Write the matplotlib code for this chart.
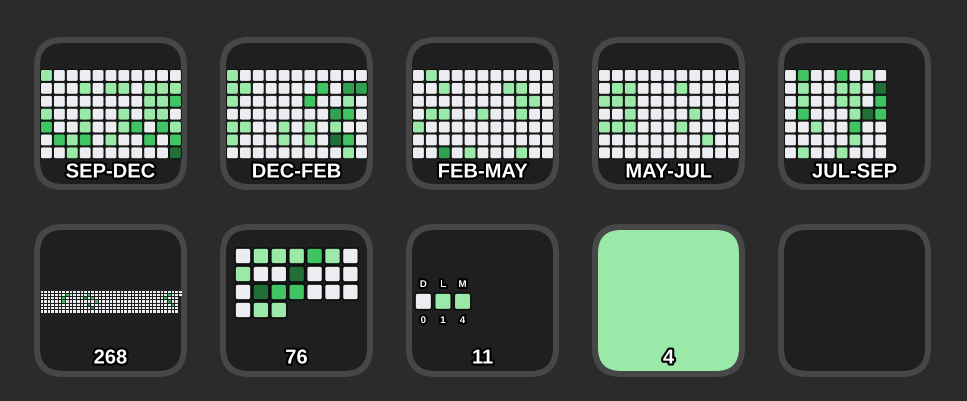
import matplotlib.pyplot as plt
from matplotlib.patches import FancyBboxPatch
import matplotlib.patheffects as pe

plt.rcParams['font.family'] = ['Liberation Sans', 'DejaVu Sans']

# github style levels
niveles = ['#ebedf0', '#9be9a8', '#40c463', '#30a14e', '#216e39']

meses = ["SEP-DEC", "DEC-FEB", "FEB-MAY", "MAY-JUL", "JUL-SEP"]

sep_dec = [[1,0,0,0,0,0,0,0,0,0,0],
           [0,0,0,1,0,1,1,0,1,1,1],
           [0,0,0,0,0,0,0,0,1,1,2],
           [1,0,0,1,0,0,1,0,1,1,0],
           [2,0,0,1,0,0,1,2,0,2,1],
           [0,2,1,2,0,1,0,0,2,0,2],
           [0,0,1,0,0,0,0,0,0,0,4]]
dec_feb = [[1,0,0,0,0,0,0,0,0,0,0],
           [1,1,0,0,0,0,0,2,0,3,3],
           [1,0,0,0,0,0,2,0,0,1,0],
           [0,0,0,0,0,0,0,0,3,2,0],
           [1,1,0,0,1,0,1,0,1,0,0],
           [1,0,0,0,1,0,1,0,4,2,0],
           [0,0,0,0,0,0,0,0,0,1,0]]
feb_may = [[0,1,0,0,0,0,0,0,0,0,0],
           [0,0,1,0,0,0,0,1,1,0,0],
           [0,0,0,0,0,0,0,0,1,1,0],
           [0,1,1,0,0,1,0,0,1,0,0],
           [1,0,0,0,0,0,0,0,0,0,0],
           [0,0,0,0,0,0,0,0,0,0,0],
           [0,0,3,0,1,0,0,0,1,0,0]]
may_jul = [[0,0,0,0,0,0,0,0,0,0,0],
           [0,1,1,0,0,0,1,0,0,0,0],
           [1,1,1,0,0,0,0,0,0,0,0],
           [0,0,1,0,0,0,0,1,0,0,0],
           [1,1,1,0,0,0,1,0,0,0,0],
           [0,0,0,0,0,0,0,0,1,0,0],
           [0,0,0,0,0,0,0,0,0,0,0]]
jul_sep = [[0,2,0,0,2,0,1,0],
           [0,1,0,0,1,1,0,4],
           [0,1,0,0,1,1,0,2],
           [0,2,0,0,0,1,4,2],
           [0,0,1,0,0,2,0,0],
           [0,0,0,0,0,1,0,0],
           [0,1,0,0,1,0,0,0]]
grids = [sep_dec, dec_feb, feb_may, may_jul, jul_sep]

# bottom row
totales = ["268", "76", "11", "4"]
anio_dias = 268
anio_activos = [(6, 2, 2), (6, 3, 2), (7, 1, 2), (12, 2, 3), (13, 1, 2), (13, 4, 3),
                (14, 2, 2), (14, 5, 3), (15, 3, 2), (34, 2, 2), (35, 1, 2), (35, 3, 3), (36, 4, 2)]
semana = [0,1,1,1,2,1,0,
          1,0,0,4,0,0,0,
          0,4,2,2,0,0,0,
          0,1,1]
dias = ["D", "L", "M"]
dias_cuenta = [0, 1, 4]
dias_nivel = [0, 1, 1]
hoy_nivel = 1

fondo = '#2b2b2b'
borde = '#474747'
interior = '#1f1f1f'

fig = plt.figure(figsize=(9.67, 4.01), dpi=100, facecolor=fondo)
ax = fig.add_axes([0, 0, 1, 1])
ax.set_xlim(0, 967)
ax.set_ylim(401, 0)
ax.axis('off')
ax.set_facecolor(fondo)

x0s = [34, 220, 406, 592, 778]
y0s = [37, 224]
L = 153
B = 6

stroke = [pe.withStroke(linewidth=3, foreground='black')]


def tile(x, y, fill=interior):
    ax.add_patch(FancyBboxPatch((x, y), L, L, boxstyle="round,pad=0,rounding_size=29",
                                fc=borde, ec='none'))
    ax.add_patch(FancyBboxPatch((x + B, y + B), L - 2*B, L - 2*B,
                                boxstyle="round,pad=0,rounding_size=23", fc=fill, ec='none'))


def celda(x, y, w, h, nivel, r=2, lw=0.7):
    ax.add_patch(FancyBboxPatch((x, y), w, h, boxstyle=f"round,pad=0,rounding_size={r}",
                                fc=niveles[nivel], ec='#0d0d0d', lw=lw))


def rotulo(x, y, s, size=14.5):
    ax.text(x, y, s, color='white', fontsize=size, fontweight='bold',
            ha='center', va='center', path_effects=stroke)


# top row: heatmaps per period
p = 12.9
for i, (g, m) in enumerate(zip(grids, meses)):
    x, y = x0s[i], y0s[0]
    tile(x, y)
    gx, gy = x + B, y + 32
    for r, fila in enumerate(g):
        for c, v in enumerate(fila):
            celda(gx + c*p + 0.5, gy + r*p + 0.5, p - 1.0, p - 1.0, v)
    rotulo(x + L/2, y + 135, m)

# bottom row
y = y0s[1]

# whole year strip
x = x0s[0]
tile(x, y)
cols = (anio_dias + 6) // 7
pw, ph = 142 / cols, 23 / 7
activos = {(c, r): v for c, r, v in anio_activos}
for d in range(anio_dias):
    c, r = d // 7, d % 7
    ax.add_patch(plt.Rectangle((x + B + c*pw + 0.5, y + 66 + r*ph + 0.5), pw - 1.0, ph - 1.0,
                               fc=niveles[activos.get((c, r), 0)], ec='none'))
rotulo(x + L/2, y + 134, totales[0])

# last weeks
x = x0s[1]
tile(x, y)
for k, v in enumerate(semana):
    c, r = k % 7, k // 7
    celda(x + 15 + c*17.9, y + 24 + r*18, 16, 16, v, r=2.5, lw=1.2)
rotulo(x + L/2, y + 134, totales[1])

# last days
x = x0s[2]
tile(x, y)
for k, (d, n, v) in enumerate(zip(dias, dias_cuenta, dias_nivel)):
    cx = x + 9 + k*19.6
    celda(cx, y + 69, 16.7, 16.7, v, r=2.5, lw=1.2)
    rotulo(cx + 8.3, y + 60, d, size=7)
    rotulo(cx + 8.3, y + 96, str(n), size=7)
rotulo(x + L/2, y + 134, totales[2])

# today
x = x0s[3]
tile(x, y, fill=niveles[hoy_nivel])
rotulo(x + L/2, y + 134, totales[3])

# empty
tile(x0s[4], y)

fig.savefig('out.png', dpi=100, facecolor=fondo)
